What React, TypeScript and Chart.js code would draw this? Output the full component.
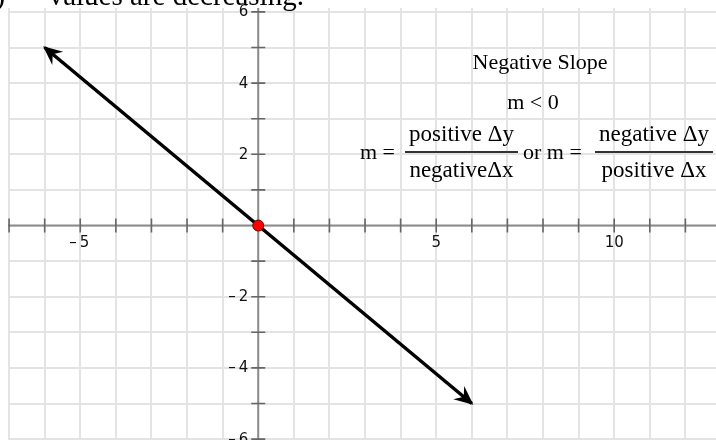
import { useEffect, useRef } from "react";
import { Chart, registerables } from "chart.js";

Chart.register(...registerables);

// Visible window of the coordinate plane
const xRange = [-7.03, 12.86];
const yRange = [-6.025, 6.11];

// Tick marks on the axes and the values that get a label
const xTickValues = [-7, -6, -5, -4, -3, -2, -1, 1, 2, 3, 4, 5, 6, 7, 8, 9, 10, 11, 12];
const yTickValues = [-6, -5, -4, -3, -2, -1, 1, 2, 3, 4, 5, 6];
const xLabelValues = [-5, 5, 10];
const yLabelValues = [6, 4, 2, -2, -4, -6];

// The line segment (with arrowheads at both ends) and the marked point
const lineX = [-6, 6];
const lineY = [5, -5];
const pointX = [0];
const pointY = [0];

// Annotation text
const headerText = "y) \u2014 values are decreasing.";
const titleText = "Negative Slope";
const conditionText = "m < 0";
const fractionA = ["positive \u0394y", "negative\u0394x"];
const fractionB = ["negative \u0394y", "positive \u0394x"];

const serif = '"Liberation Serif", "Times New Roman", serif';
const sans = '"DejaVu Sans", Verdana, sans-serif';

function fmt(v: number): string {
  return v < 0 ? "\u2013\u2009" + Math.abs(v) : String(v);
}

const planePlugin = {
  id: "plane",
  beforeDatasetsDraw(chart: any) {
    const { ctx, chartArea } = chart;
    const xs = chart.scales.x;
    const ys = chart.scales.y;
    const x0 = xs.getPixelForValue(0);
    const y0 = ys.getPixelForValue(0);
    ctx.save();
    // axis lines
    ctx.strokeStyle = "#8c8c8c";
    ctx.lineWidth = 2;
    ctx.beginPath();
    ctx.moveTo(chartArea.left, y0);
    ctx.lineTo(chartArea.right, y0);
    ctx.moveTo(x0, chartArea.top);
    ctx.lineTo(x0, chartArea.bottom);
    ctx.stroke();
    // tick marks crossing the axes
    ctx.strokeStyle = "#666";
    ctx.lineWidth = 1.6;
    ctx.beginPath();
    xTickValues.forEach((v) => {
      const px = xs.getPixelForValue(v);
      ctx.moveTo(px, y0 - 7);
      ctx.lineTo(px, y0 + 7);
    });
    yTickValues.forEach((v) => {
      const py = ys.getPixelForValue(v);
      ctx.moveTo(x0 - 7, py);
      ctx.lineTo(x0 + 7, py);
    });
    ctx.stroke();
    // labels
    ctx.fillStyle = "#111";
    ctx.font = `15px ${sans}`;
    ctx.textBaseline = "middle";
    ctx.textAlign = "center";
    xLabelValues.forEach((v) => {
      const px = xs.getPixelForValue(v);
      ctx.fillText(fmt(v), px + (v < 0 ? -1 : 0), y0 + 18);
    });
    ctx.textAlign = "right";
    yLabelValues.forEach((v) => {
      const py = ys.getPixelForValue(v);
      ctx.fillText(fmt(v), x0 - 10, py + 0.5);
    });
    ctx.restore();
  },
  afterDatasetsDraw(chart: any) {
    const { ctx } = chart;
    const meta = chart.getDatasetMeta(1);
    const pts = meta.data;
    if (!pts || pts.length < 2) return;
    const ends = [
      [pts[0], pts[1]],
      [pts[pts.length - 1], pts[pts.length - 2]],
    ];
    ctx.save();
    ctx.fillStyle = "#000";
    ends.forEach(([end, prev]: any) => {
      let dx = end.x - prev.x;
      let dy = end.y - prev.y;
      const len = Math.hypot(dx, dy);
      dx /= len;
      dy /= len;
      const nx = -dy;
      const ny = dx;
      const tx = end.x + dx * 2;
      const ty = end.y + dy * 2;
      const L = 19;
      const W = 8.5;
      const N = 12.5;
      ctx.beginPath();
      ctx.moveTo(tx, ty);
      ctx.lineTo(tx - dx * L + nx * W, ty - dy * L + ny * W);
      ctx.lineTo(tx - dx * N, ty - dy * N);
      ctx.lineTo(tx - dx * L - nx * W, ty - dy * L - ny * W);
      ctx.closePath();
      ctx.fill();
    });
    ctx.restore();
  },
  afterDraw(chart: any) {
    const { ctx } = chart;
    ctx.save();
    ctx.fillStyle = "#000";
    ctx.textBaseline = "alphabetic";

    ctx.font = `29px ${serif}`;
    ctx.textAlign = "left";
    ctx.fillText(headerText, -19, 5);

    ctx.font = `22px ${serif}`;
    ctx.textAlign = "center";
    ctx.fillText(titleText, 540, 69);
    ctx.fillText(conditionText, 533, 108.5);

    ctx.textAlign = "left";
    ctx.fillText("m =", 360, 159);
    ctx.fillText("or m =", 523, 159);

    const drawFraction = (parts: string[], left: number, right: number) => {
      const cx = (left + right) / 2;
      ctx.strokeStyle = "#333";
      ctx.lineWidth = 2;
      ctx.beginPath();
      ctx.moveTo(left, 152);
      ctx.lineTo(right, 152);
      ctx.stroke();
      ctx.font = `23px ${serif}`;
      ctx.textAlign = "center";
      ctx.fillText(parts[0], cx, 141);
      ctx.fillText(parts[1], cx, 177);
    };
    drawFraction(fractionA, 405, 518);
    drawFraction(fractionB, 595, 713);
    ctx.restore();
  },
};

export default function App() {
  const canvasRef = useRef<HTMLCanvasElement | null>(null);

  useEffect(() => {
    document.body.style.overflow = "hidden";
    const canvas = canvasRef.current;
    if (!canvas) return;
    const chart = new Chart(canvas, {
      type: "scatter",
      data: {
        datasets: [
          {
            label: "point",
            data: pointX.map((x, i) => ({ x, y: pointY[i] })),
            pointRadius: 5.5,
            pointBackgroundColor: "#ff0000",
            pointBorderColor: "#6a0000",
            pointBorderWidth: 1,
            showLine: false,
            order: 0,
          },
          {
            label: "line",
            data: lineX.map((x, i) => ({ x, y: lineY[i] })),
            showLine: true,
            borderColor: "#000",
            borderWidth: 3.5,
            pointRadius: 0,
            order: 1,
          },
        ],
      },
      options: {
        responsive: false,
        devicePixelRatio: 1,
        animation: false,
        layout: { autoPadding: false, padding: { left: 8, top: 8, right: 0, bottom: 0 } },
        plugins: {
          legend: { display: false },
          tooltip: { enabled: false },
        },
        scales: {
          x: {
            type: "linear",
            min: xRange[0],
            max: xRange[1],
            ticks: { display: false, stepSize: 1, includeBounds: false },
            grid: { color: "#e3e3e3", lineWidth: 2, drawTicks: false },
            border: { display: false },
          },
          y: {
            type: "linear",
            min: yRange[0],
            max: yRange[1],
            ticks: { display: false, stepSize: 1, includeBounds: false },
            grid: { color: "#e3e3e3", lineWidth: 2, drawTicks: false },
            border: { display: false },
          },
        },
      },
      plugins: [planePlugin],
    });
    return () => chart.destroy();
  }, []);

  return (
    <div style={{ position: "fixed", left: 0, top: 0, width: 716, height: 440, background: "#fff" }}>
      <canvas ref={canvasRef} width={716} height={440} style={{ display: "block" }} />
    </div>
  );
}
